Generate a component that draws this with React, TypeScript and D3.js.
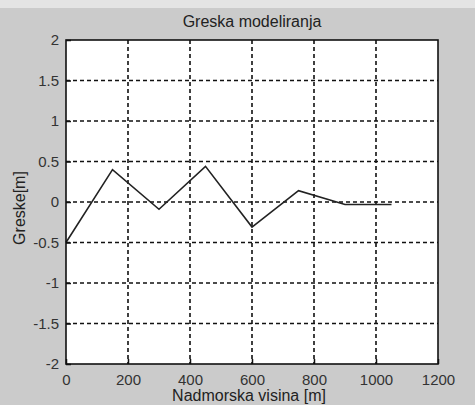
import * as d3 from 'd3';
import { useEffect, useRef } from 'react';

// visina [m] i greska [m]
const visine = [0, 150, 300, 450, 600, 750, 900, 1050];
const greske = [-0.5, 0.4, -0.09, 0.44, -0.31, 0.14, -0.03, -0.03];
const xTicks = [0, 200, 400, 600, 800, 1000, 1200];
const yTicks = [-2, -1.5, -1, -0.5, 0, 0.5, 1, 1.5, 2];

const W = 475;
const H = 405;

function App() {
  const svgRef = useRef<SVGSVGElement>(null);

  useEffect(() => {
    if (!svgRef.current) return;
    const svg = d3.select(svgRef.current);
    svg.selectAll('*').remove();

    const margin = { top: 40, right: 37, bottom: 41, left: 66 };
    const width = W - margin.left - margin.right;
    const height = H - margin.top - margin.bottom;
    const font = 'Arial, "Liberation Sans", sans-serif';

    svg.append('rect')
      .attr('width', W)
      .attr('height', H)
      .attr('fill', '#cbcbcb');

    svg.append('rect')
      .attr('width', W)
      .attr('height', 8)
      .attr('fill', '#e4e4e4');

    const x = d3.scaleLinear().domain([0, 1200]).range([0, width]);
    const y = d3.scaleLinear().domain([-2, 2]).range([height, 0]);

    const g = svg.append('g')
      .attr('transform', `translate(${margin.left}, ${margin.top})`);

    g.append('rect')
      .attr('width', width)
      .attr('height', height)
      .attr('fill', 'white');

    // isprekidana mreza
    g.selectAll('.vgrid')
      .data(xTicks.slice(1, -1))
      .enter().append('line')
      .attr('x1', d => x(d)).attr('x2', d => x(d))
      .attr('y1', 0).attr('y2', height)
      .attr('stroke', '#111')
      .attr('stroke-width', 1.6)
      .attr('stroke-dasharray', '4,3');

    g.selectAll('.hgrid')
      .data(yTicks.slice(1, -1))
      .enter().append('line')
      .attr('y1', d => y(d)).attr('y2', d => y(d))
      .attr('x1', 0).attr('x2', width)
      .attr('stroke', '#111')
      .attr('stroke-width', 1.6)
      .attr('stroke-dasharray', '4,3');

    const line = d3.line<number>()
      .x((d, i) => x(visine[i]))
      .y(d => y(d));

    g.append('path')
      .datum(greske)
      .attr('d', line)
      .attr('fill', 'none')
      .attr('stroke', '#222')
      .attr('stroke-width', 1.6);

    const xAxis = g.append('g')
      .attr('transform', `translate(0, ${height})`)
      .call(d3.axisBottom(x).tickValues(xTicks).tickSize(-5).tickPadding(10)
        .tickFormat(d => String(d)));

    const yAxis = g.append('g')
      .call(d3.axisLeft(y).tickValues(yTicks).tickSize(-5).tickPadding(7)
        .tickFormat(d => String(d).replace('\u2212', '-')));

    [xAxis, yAxis].forEach(a => {
      a.select('.domain').remove();
      a.selectAll('.tick line').attr('stroke', '#111').attr('stroke-width', 1.5);
      a.selectAll('.tick text')
        .attr('fill', '#333')
        .attr('font-family', font)
        .attr('font-size', '15px');
    });

    g.append('rect')
      .attr('width', width)
      .attr('height', height)
      .attr('fill', 'none')
      .attr('stroke', '#111')
      .attr('stroke-width', 1.6);

    svg.append('text')
      .attr('x', margin.left + width / 2)
      .attr('y', 27)
      .attr('text-anchor', 'middle')
      .attr('font-family', font)
      .attr('font-size', '16px')
      .attr('fill', '#222')
      .text('Greska modeliranja');

    svg.append('text')
      .attr('x', margin.left + width / 2 - 3)
      .attr('y', 401)
      .attr('text-anchor', 'middle')
      .attr('font-family', font)
      .attr('font-size', '16px')
      .attr('fill', '#222')
      .text('Nadmorska visina [m]');

    svg.append('text')
      .attr('transform', `translate(25, ${margin.top + height / 2 + 6}) rotate(-90)`)
      .attr('text-anchor', 'middle')
      .attr('font-family', font)
      .attr('font-size', '16px')
      .attr('fill', '#222')
      .text('Greske[m]');

    return () => {
      d3.select(svgRef.current).selectAll('*').remove();
    };
  }, []);

  return (
    <svg
      ref={svgRef}
      width={W}
      height={H}
      style={{ position: 'absolute', left: 0, top: 0 }}
    />
  );
}

export default App;
